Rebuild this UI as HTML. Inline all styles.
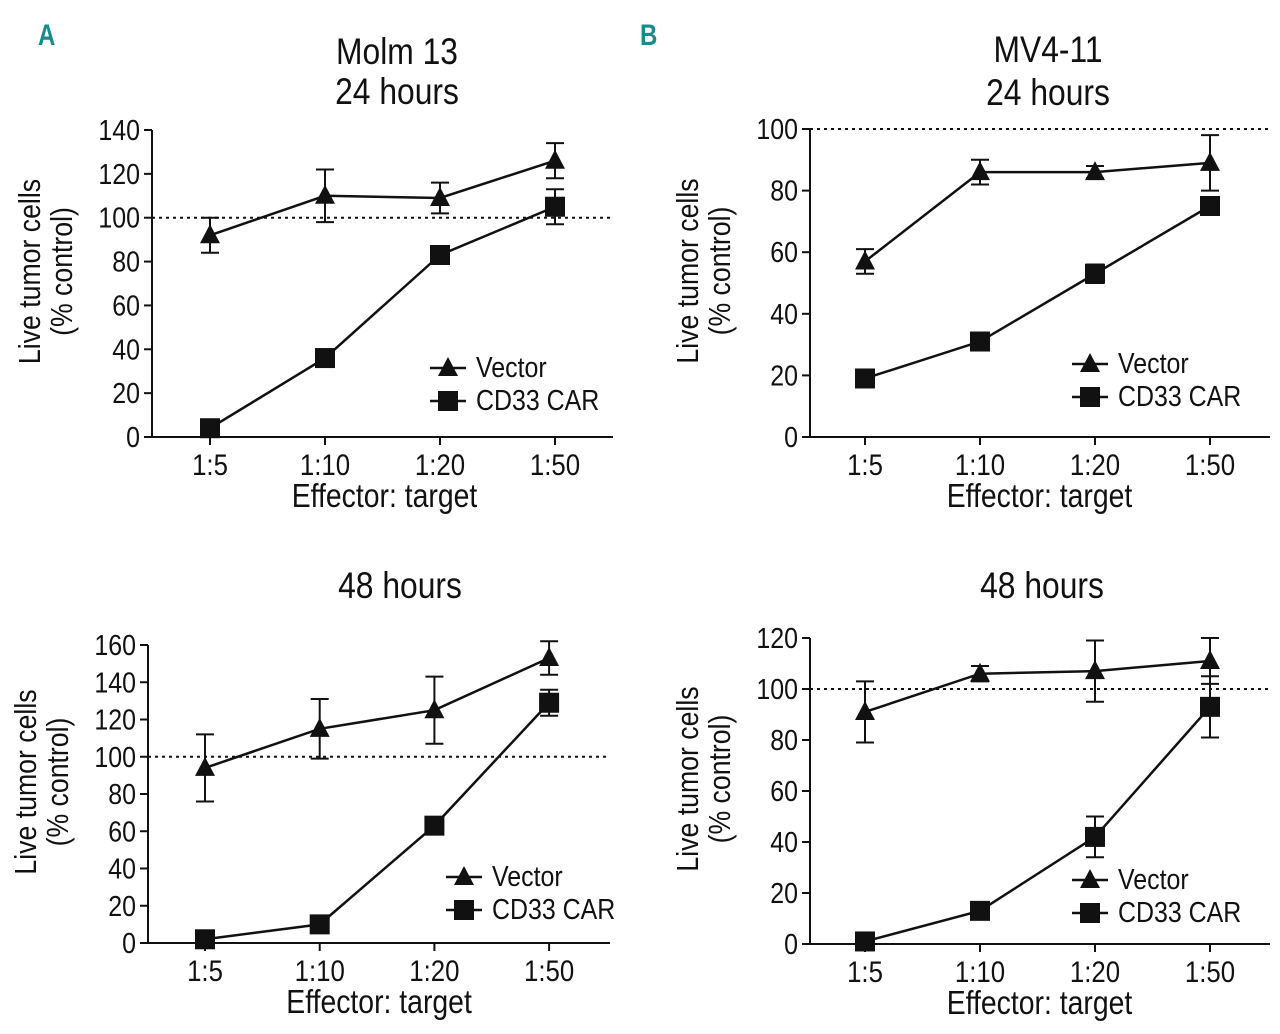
<!DOCTYPE html>
<html><head><meta charset="utf-8"><style>
html,body{margin:0;padding:0;background:#fff}
svg{display:block}
text{font-family:"Liberation Sans",sans-serif;fill:#111}
</style></head><body>
<svg id="fig" width="1280" height="1034" viewBox="0 0 1280 1034">
<text x="38" y="45" font-size="30" font-weight="bold" transform="translate(38 45) scale(0.8 1) translate(-38 -45)" style="fill:#1a8a8a">A</text>
<text x="640" y="45" font-size="30" font-weight="bold" transform="translate(640 45) scale(0.8 1) translate(-640 -45)" style="fill:#1a8a8a">B</text>
</svg>
<script>
const categories = ["1:5","1:10","1:20","1:50"];
// Panel A top (Molm 13, 24h)
const aTopVector = [92,110,109,126];
const aTopVectorErr = [8,12,7,8];
const aTopCar = [4,36,83,105];
const aTopCarErr = [2,2,2,8];
const aTopTicks = [0,20,40,60,80,100,120,140];
// Panel A bottom (Molm 13, 48h)
const aBotVector = [94,115,125,153];
const aBotVectorErr = [18,16,18,9];
const aBotCar = [2,10,63,129];
const aBotCarErr = [1,1,2,7];
const aBotTicks = [0,20,40,60,80,100,120,140,160];
// Panel B top (MV4-11, 24h)
const bTopVector = [57,86,86,89];
const bTopVectorErr = [4,4,2,9];
const bTopCar = [19,31,53,75];
const bTopCarErr = [1,1,3,1];
const bTopTicks = [0,20,40,60,80,100];
// Panel B bottom (MV4-11, 48h)
const bBotVector = [91,106,107,111];
const bBotVectorErr = [12,3,12,9];
const bBotCar = [1,13,42,93];
const bBotCarErr = [1,2,8,12];
const bBotTicks = [0,20,40,60,80,100,120];

const NS="http://www.w3.org/2000/svg";
const svg=document.getElementById('fig');
const SX=0.86;
function mk(tag,attrs,parent,text){const e=document.createElementNS(NS,tag);for(const k in attrs)e.setAttribute(k,attrs[k]);if(text!==undefined)e.textContent=text;(parent||svg).appendChild(e);return e;}
function txt(x,y,size,anchor,s,parent,rot){
  const tf=rot?`translate(${x} ${y}) rotate(-90) scale(${SX} 1)`:`translate(${x} ${y}) scale(${SX} 1)`;
  return mk('text',{x:0,y:0,'font-size':size,'text-anchor':anchor,transform:tf},parent,s);
}

function panel(p){
  const g=mk('g',{});
  
  
  const ymax=p.ticks[p.ticks.length-1];
  const y=v=>p.y0-(v/ymax)*(p.y0-p.yTop);
  const x=i=>p.x0+i*p.dx;
  p.titles.forEach((t,i)=>{const tt=txt(p.titleX,p.titleY+i*p.titleGap,37,'middle',t,g);
    
    });
  const ax=mk('path',{d:`M${p.ax} ${p.yTop}V${p.y0}H${p.axEnd}`,stroke:'#111','stroke-width':2,fill:'none'},g);
  
  
  p.ticks.forEach(t=>{
    mk('line',{x1:p.ax-8,x2:p.ax,y1:y(t),y2:y(t),stroke:'#111','stroke-width':2},g);
    const tl=txt(p.ax-12,y(t)+10,29,'end',String(t),g);
    
    
  });
  categories.forEach((c,i)=>{
    mk('line',{x1:x(i),x2:x(i),y1:p.y0,y2:p.y0+8,stroke:'#111','stroke-width':2},g);
    const tl=txt(x(i),p.y0+38,30,'middle',c,g);
    
    
  });
  const xt=txt(p.x0+1.5*p.dx+2,p.y0+70,33,'middle','Effector: target',g);
  
  
  const yc=(p.yTop+p.y0)/2;
  const yt1=txt(p.ax-112,yc-12,31,'middle','Live tumor cells',g,true);
  
  
  const yt2=txt(p.ax-80,yc-12,31,'middle','(% control)',g,true);
  
  
  const ref=mk('line',{x1:p.ax,x2:p.axEnd,y1:y(100),y2:y(100),stroke:'#111','stroke-width':2,'stroke-dasharray':'3,4'},g);
  
  
  [[p.vec,p.vecErr,'tri','series-vector'],[p.car,p.carErr,'sq','series-cd33-car']].forEach(([vals,errs,shape,nm])=>{
    const sg=mk('g',{},g);
    
    
    mk('polyline',{points:vals.map((v,i)=>x(i)+','+y(v)).join(' '),fill:'none',stroke:'#111','stroke-width':2.5},sg);
    vals.forEach((v,i)=>{
      const hi=y(v+errs[i]),lo=y(v-errs[i]);
      mk('path',{d:`M${x(i)} ${hi}V${lo}M${x(i)-9} ${hi}H${x(i)+9}M${x(i)-9} ${lo}H${x(i)+9}`,stroke:'#111','stroke-width':2,fill:'none'},sg);
      let m;
      if(shape==='tri') m=mk('path',{d:`M${x(i)} ${y(v)-11}L${x(i)+10} ${y(v)+8}L${x(i)-10} ${y(v)+8}Z`,fill:'#111'},sg);
      else m=mk('rect',{x:x(i)-10,y:y(v)-10,width:20,height:20,fill:'#111'},sg);
      
      
    });
  });
  const lg=mk('g',{},g);
  
  
  const lx=p.legX, ly=p.legY;
  mk('line',{x1:lx,x2:lx+36,y1:ly,y2:ly,stroke:'#111','stroke-width':2.5},lg);
  mk('path',{d:`M${lx+18} ${ly-11}L${lx+28} ${ly+8}L${lx+8} ${ly+8}Z`,fill:'#111'},lg);
  const l1=txt(lx+46,ly+9,29,'start','Vector',lg);
  
  
  mk('line',{x1:lx,x2:lx+36,y1:ly+33,y2:ly+33,stroke:'#111','stroke-width':2.5},lg);
  mk('rect',{x:lx+8,y:ly+23,width:20,height:20,fill:'#111'},lg);
  const l2=txt(lx+46,ly+42,29,'start','CD33 CAR',lg);
  
  
}

panel({name:'chart-molm13-24h',titles:['Molm 13','24 hours'],titleX:397,titleY:64,titleGap:40,ax:152,axEnd:613,x0:210,dx:115,y0:437,yTop:130,ticks:aTopTicks,vec:aTopVector,vecErr:aTopVectorErr,car:aTopCar,carErr:aTopCarErr,legX:430,legY:368});
panel({name:'chart-molm13-48h',titles:['48 hours'],titleX:400,titleY:598,titleGap:40,ax:148,axEnd:610,x0:205,dx:114.7,y0:943,yTop:645,ticks:aBotTicks,vec:aBotVector,vecErr:aBotVectorErr,car:aBotCar,carErr:aBotCarErr,legX:446,legY:877});
panel({name:'chart-mv411-24h',titles:['MV4-11','24 hours'],titleX:1048,titleY:62,titleGap:43,ax:810,axEnd:1270,x0:865,dx:115,y0:437,yTop:129,ticks:bTopTicks,vec:bTopVector,vecErr:bTopVectorErr,car:bTopCar,carErr:bTopCarErr,legX:1072,legY:364});
panel({name:'chart-mv411-48h',titles:['48 hours'],titleX:1042,titleY:598,titleGap:40,ax:810,axEnd:1270,x0:865,dx:115,y0:944,yTop:638,ticks:bBotTicks,vec:bBotVector,vecErr:bBotVectorErr,car:bBotCar,carErr:bBotCarErr,legX:1072,legY:880});
</script>
</body></html>
